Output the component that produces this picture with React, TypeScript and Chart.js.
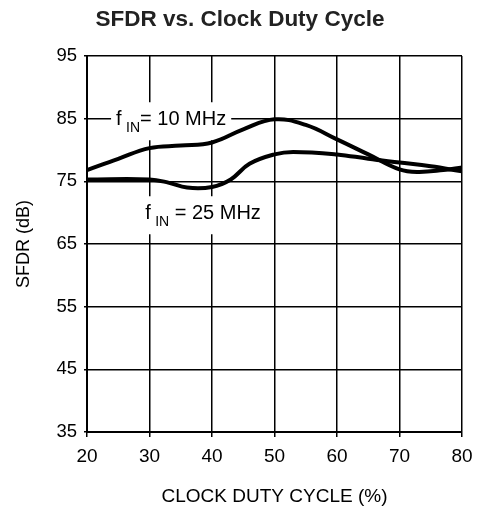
import React, { useEffect, useRef } from "react";
import { Chart, registerables } from "chart.js";

Chart.register(...registerables);

const TITLE = "SFDR vs. Clock Duty Cycle";
const X_TITLE = "CLOCK DUTY CYCLE (%)";
const Y_TITLE = "SFDR (dB)";

const dutyA = [20, 25, 30, 35, 40, 45, 50, 55, 60, 65, 70, 73, 77, 80];
const sfdr10 = [76.8, 78.6, 80.3, 80.7, 81.2, 83.3, 84.9, 84.0, 81.7, 79.3, 76.9, 76.5, 76.8, 77.2];

const dutyB = [20, 30, 33, 36, 40, 43, 46, 50, 53, 60, 65, 70, 75, 80];
const sfdr25 = [75.3, 75.3, 74.8, 74.0, 74.1, 75.3, 77.8, 79.3, 79.7, 79.3, 78.6, 78.0, 77.4, 76.6];

const labelMain = ["f", "f"];
const labelSub = ["IN", "IN"];
const labelRest = ["= 10 MHz", " = 25 MHz"];
const labelAtX = [24.65, 29.3];
const labelAtY = [83.95, 68.95];

const FONT = "'Liberation Sans', Arial, Helvetica, sans-serif";

const titlePlugin = {
  id: "customTitle",
  afterDraw(chart: any) {
    const ctx = chart.ctx;
    ctx.save();
    ctx.font = `bold 22.5px ${FONT}`;
    ctx.fillStyle = "#222";
    ctx.textAlign = "center";
    ctx.textBaseline = "alphabetic";
    ctx.fillText(TITLE, 240, 26);
    ctx.restore();
  },
};

const labelPlugin = {
  id: "curveLabels",
  beforeDatasetsDraw(chart: any) {
    const ctx = chart.ctx;
    const xs = chart.scales.x;
    const ys = chart.scales.y;
    ctx.save();
    for (let i = 0; i < labelMain.length; i++) {
      const px = xs.getPixelForValue(labelAtX[i]);
      const py = ys.getPixelForValue(labelAtY[i]);
      ctx.font = `20px ${FONT}`;
      const wr = ctx.measureText(labelRest[i]).width;
      ctx.font = `14px ${FONT}`;
      const ws = ctx.measureText(labelSub[i]).width;
      const subX = px + 10;
      const restX = subX + ws;
      ctx.fillStyle = "#ffffff";
      ctx.fillRect(px - 5, py - 23, restX + wr - px + 10, 38);
      ctx.fillStyle = "#000000";
      ctx.textBaseline = "alphabetic";
      ctx.textAlign = "left";
      ctx.font = `20px ${FONT}`;
      ctx.fillText(labelMain[i], px, py);
      ctx.fillText(labelRest[i], restX, py);
      ctx.font = `14px ${FONT}`;
      ctx.fillText(labelSub[i], subX, py + 6.5);
    }
    ctx.restore();
  },
};

export default function App() {
  const ref = useRef<HTMLCanvasElement | null>(null);
  useEffect(() => {
    if (!ref.current) return;
    const chart = new Chart(ref.current, {
      type: "line",
      data: {
        datasets: [
          {
            label: "fIN = 10 MHz",
            data: dutyA.map((x, i) => ({ x, y: sfdr10[i] })),
            borderColor: "#000",
            borderWidth: 4,
            pointRadius: 0,
            tension: 0.4,
            fill: false,
          },
          {
            label: "fIN = 25 MHz",
            data: dutyB.map((x, i) => ({ x, y: sfdr25[i] })),
            borderColor: "#000",
            borderWidth: 4,
            pointRadius: 0,
            tension: 0.4,
            fill: false,
          },
        ],
      },
      plugins: [labelPlugin, titlePlugin],
      options: {
        animation: false,
        responsive: false,
        maintainAspectRatio: false,
        layout: { padding: { left: 0, right: 15, top: 56, bottom: 0 } },
        plugins: {
          legend: { display: false },
          tooltip: { enabled: false },
          title: { display: false },
        },
        scales: {
          x: {
            type: "linear",
            min: 20,
            max: 80,
            ticks: {
              stepSize: 10,
              color: "#000",
              font: { family: FONT, size: 19 },
              padding: 8,
              maxRotation: 0,
            },
            grid: { color: "#000", lineWidth: 1.5, tickLength: 5 },
            border: { color: "#000", width: 2 },
            title: {
              display: true,
              text: X_TITLE,
              color: "#000",
              font: { family: FONT, size: 19 },
              padding: { top: 10, bottom: 11 },
            },
            afterFit(scale: any) {
              scale.height = 87;
              scale.paddingRight = 0;
              scale.paddingLeft = 0;
            },
          },
          y: {
            type: "linear",
            min: 35,
            max: 95,
            ticks: {
              stepSize: 10,
              color: "#000",
              font: { family: FONT, size: 18.5 },
              padding: 7,
            },
            grid: { color: "#000", lineWidth: 1.5, tickLength: 3 },
            border: { color: "#000", width: 2 },
            title: {
              display: true,
              text: Y_TITLE,
              color: "#000",
              font: { family: FONT, size: 18 },
              padding: { top: 13, bottom: 0 },
            },
            afterFit(scale: any) {
              scale.width = 87;
            },
          },
        },
      },
    });
    return () => chart.destroy();
  }, []);
  return (
    <div style={{ position: "fixed", left: 0, top: 0, width: 477, height: 519, background: "#fff" }}>
      <canvas ref={ref} width={477} height={519} style={{ width: 477, height: 519 }} />
    </div>
  );
}
